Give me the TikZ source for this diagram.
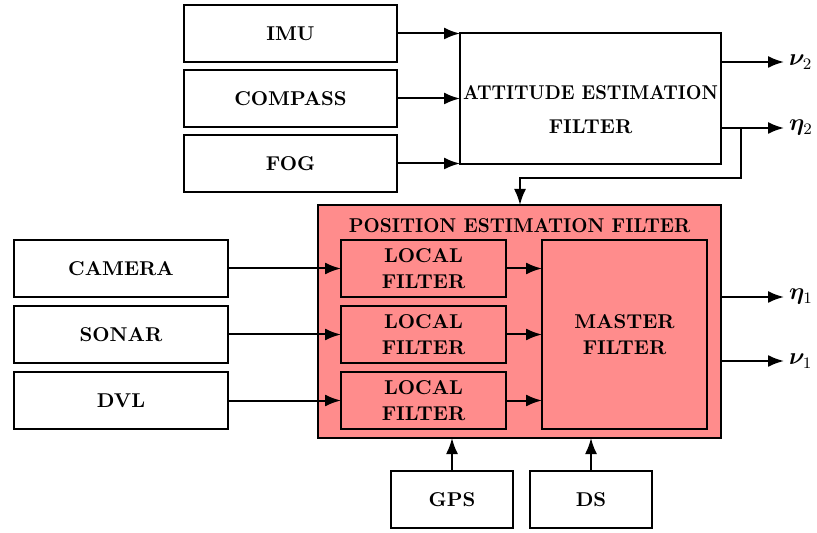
\documentclass[tikz,border=0pt]{standalone}
\usepackage{amsmath,bm}
\usetikzlibrary{positioning,arrows.meta}
\tikzset{>={Latex[length=8pt,width=6pt]}}
\colorlet{Pcol}{red!45}
\tikzstyle{sensor}=[draw,line width=1.4pt,font=\bfseries,minimum height=28.5pt,
  inner sep=1pt,outer sep=0pt]
\tikzstyle{filter}=[sensor,fill=Pcol,align=center]
\tikzstyle{signal}=[->,line width=1pt]
\tikzstyle{state}=[right,font=\large,inner sep=2pt]

\begin{document}
\begin{tikzpicture}[x=0.5pt,y=-0.5pt]
  \useasboundingbox (0,0) rectangle (817,533);

  % ATTITUDE SENSORS
  \node[sensor,minimum width=106.5pt] (imu) at (290.5,33.5) {IMU};
  \node[sensor,minimum width=106.5pt,below=4pt of imu] (compass) {COMPASS};
  \node[sensor,minimum width=106.5pt,below=4pt of compass] (fog) {FOG};

  % ATTITUDE FILTER
  \node[sensor,minimum width=130.5pt,minimum height=65.5pt] (att) at (590.5,98.5) {};
  \node[align=center,font=\bfseries] (att text) at ([yshift=-5.75pt]att.center)
    {\scalebox{0.91}[1]{ATTITUDE ESTIMATION}\\[5pt]FILTER};
  \draw[signal] (imu.east) -- (att.west |- imu.east);
  \draw[signal] (compass.east) -- (att.west |- compass.east);
  \draw[signal] (fog.east) -- (att.west |- fog.east);

  \coordinate (nu2) at (784,62);
  \coordinate (eta2) at (784,128);
  \draw[signal] (att.east |- nu2) -- (nu2) node[state] {$\bm{\nu}_2$};
  \draw[signal] (att.east |- eta2) -- (eta2) node[state] {$\bm{\eta}_2$};

  % POSITION FILTER
  \node[filter,minimum width=201.5pt,minimum height=116.5pt,
    label={[anchor=north,font=\bfseries,yshift=-3pt]north:\scalebox{0.94}[1]{POSITION ESTIMATION FILTER}}]
    (pos) at (519.5,321.5) {};
  \coordinate (split) at (741,128);
  \coordinate (feed) at (520,178);
  \draw[signal] (split) |- (feed) -- (feed |- pos.north);

  \node[filter,minimum width=82.5pt] (loc1) at (423.5,268.5) {LOCAL\\[1pt]FILTER};
  \node[filter,minimum width=82.5pt,below=4.5pt of loc1] (loc2) {LOCAL\\[1pt]FILTER};
  \node[filter,minimum width=82.5pt,below=4.5pt of loc2] (loc3) {LOCAL\\[1pt]FILTER};
  \node[filter,minimum width=82.5pt,minimum height=94.5pt] (master) at (624.5,334.5)
    {MASTER\\[1pt]FILTER};
  \foreach \i in {1,2,3}{
    \draw[signal] (loc\i.east) -- (master.west |- loc\i.east);
  }

  % POSITION SENSORS
  \node[sensor,minimum width=107pt] (cam) at (121,268.5) {CAMERA};
  \node[sensor,minimum width=107pt,below=4.5pt of cam] (sonar) {SONAR};
  \node[sensor,minimum width=107pt,below=4.5pt of sonar] (dvl) {DVL};
  \draw[signal] (cam.east) -- (loc1.west);
  \draw[signal] (sonar.east) -- (loc2.west);
  \draw[signal] (dvl.east) -- (loc3.west);

  \node[sensor,minimum width=61pt] (gps) at (452,499.5) {GPS};
  \node[sensor,minimum width=61pt] (ds) at (591,499.5) {DS};
  \draw[signal] (gps.north) -- (gps.north |- pos.south);
  \draw[signal] (ds.north) -- (ds.north |- pos.south);

  \coordinate (eta1) at (784,297);
  \coordinate (nu1) at (784,361);
  \draw[signal] (pos.east |- eta1) -- (eta1) node[state] {$\bm{\eta}_1$};
  \draw[signal] (pos.east |- nu1) -- (nu1) node[state] {$\bm{\nu}_1$};
\end{tikzpicture}
\end{document}
